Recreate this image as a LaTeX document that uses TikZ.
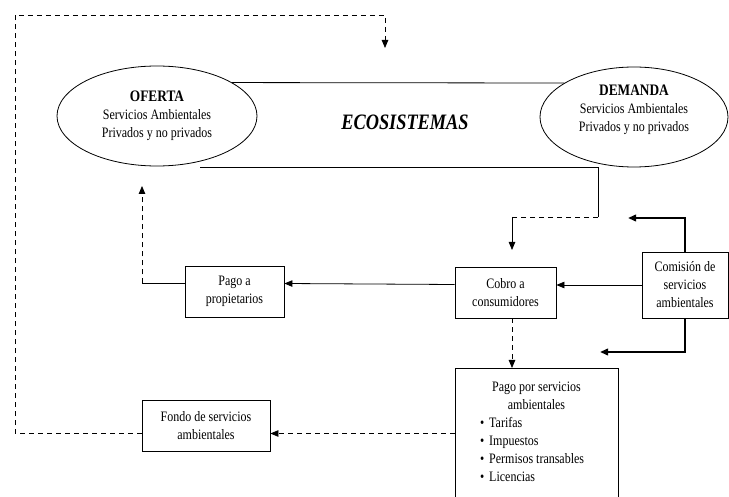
\documentclass[tikz,border=0pt]{standalone}
\usepackage{fontspec}
\setmainfont{Liberation Serif}[FakeStretch=0.833]
\usetikzlibrary{shapes.geometric,arrows.meta}

\begin{document}
\begin{tikzpicture}[x=1pt,y=-1pt,line width=0.8pt,
    every node/.style={font=\fontsize{14.4}{18}\selectfont},
    elip/.style={draw,ellipse,inner sep=0pt,align=center},
    caja/.style={draw,rectangle,align=center,inner sep=2pt},
    flecha/.style={-{Triangle[length=8pt,width=6.5pt]}},
    discont/.style={dash pattern=on 5pt off 4pt},
    gruesa/.style={line width=2.2pt}]
    \useasboundingbox (0,0) rectangle (729,497);
    \clip (0,0) rectangle (729,497);
    \node[elip,minimum width=200,minimum height=100] (oferta) at (157,116) {{\fontsize{16}{18}\selectfont\bfseries OFERTA}\\Servicios Ambientales\\Privados y no privados};
    \node[elip,minimum width=188,minimum height=100] (demanda) at (634,117) {{\fontsize{16}{18}\selectfont\bfseries DEMANDA}\\Servicios Ambientales\\Privados y no privados\\ \mbox{}};
    \node[font=\fontsize{22}{26}\selectfont\bfseries\itshape] (eco) at (405,122) {ECOSISTEMAS};
    \node[caja,minimum width=99,minimum height=51] (pago) at (234.5,291.5) {Pago a\\propietarios};
    \node[caja,minimum width=101,minimum height=51] (cobro) at (505.5,292.5) {Cobro a\\consumidores};
    \node[caja,minimum width=86,minimum height=66] (comision) at (685,285) {Comisión de\\servicios\\ambientales};
    \node[caja,minimum width=128,minimum height=51] (fondo) at (206,425.5) {Fondo de servicios\\ambientales};
    \node[caja,anchor=north,text width=155,align=left,inner xsep=4pt,inner ysep=14pt] (pps) at (536.5,368) {\spaceskip=0pt\relax
        {\centering Pago por servicios\\ambientales\par}
        \hspace*{21pt}\textbullet\hspace{5pt}Tarifas\\
        \hspace*{21pt}\textbullet\hspace{5pt}Impuestos\\
        \hspace*{21pt}\textbullet\hspace{5pt}Permisos transables\\
        \hspace*{21pt}\textbullet\hspace{5pt}Licencias\\ \mbox{}};
    \coordinate (d1) at (598,217);
    \coordinate (cin) at (512,250);
    \coordinate (ofin) at (142,186);
    \coordinate (c1) at (628,218);
    \coordinate (c2) at (600,352);
    \coordinate (pw) at ([yshift=8pt]pago.west);
    \coordinate (fe) at ([yshift=-8pt]fondo.east);
    \draw (oferta.24) -- (demanda.154);
    \draw ([xshift=43pt,yshift=-1pt]oferta.south) -| (d1);
    \draw[discont] (d1) -- (d1 -| cin);
    \draw[flecha] (d1 -| cin) -- (cin);
    \draw[flecha] (comision.west) -- (comision.west -| cobro.east);
    \draw[flecha] ([yshift=8pt]cobro.west) -- (pw -| pago.east);
    \draw (pw) -- (pw -| ofin);
    \draw[discont,flecha] (pw -| ofin) -- (ofin);
    \draw[gruesa,flecha] (comision.north) |- (c1);
    \draw[gruesa,flecha] (comision.south) |- (c2);
    \draw[discont,flecha] (cin |- cobro.south) -- (cin |- pps.north);
    \draw[discont,flecha] (fe -| pps.west) -- (fe);
    \draw[discont,flecha] ([yshift=-8pt]fondo.west) -| (15,15) -| (385,48);
\end{tikzpicture}
\end{document}
